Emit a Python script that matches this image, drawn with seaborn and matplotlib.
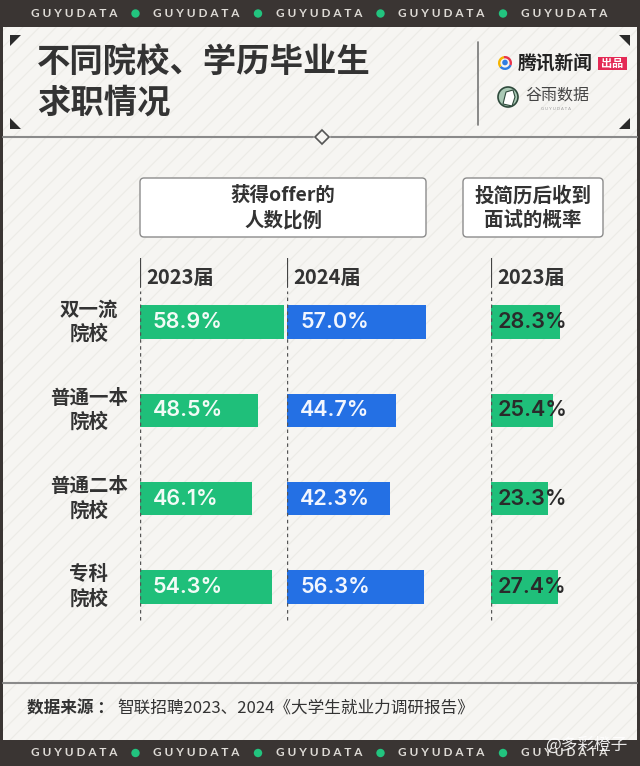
import numpy as np
import pandas as pd
import matplotlib
matplotlib.use('Agg')
import matplotlib.pyplot as plt
import matplotlib.transforms as mtransforms
from matplotlib.patches import Rectangle, Polygon, FancyBboxPatch, Circle, Wedge
import seaborn as sns

# data
schools = ['双一流\n院校', '普通一本\n院校', '普通二本\n院校', '专科\n院校']
offer_2023 = [58.9, 48.5, 46.1, 54.3]
offer_2024 = [57.0, 44.7, 42.3, 56.3]
interview_2023 = [28.3, 25.4, 23.3, 27.4]
col_labels = ['2023届', '2024届', '2023届']

sns.set_style('white')
CJK = ['Noto Sans CJK SC', 'DejaVu Sans']
NUM = ['Inter', 'Lato', 'Noto Sans CJK SC', 'DejaVu Sans']
plt.rcParams['font.family'] = CJK

GREEN = '#1fbf7a'
BLUE = '#2470e4'
DARK = '#3a3533'
TXT = '#333333'
BG = '#f6f5f2'

W, H = 640, 766
fig = plt.figure(figsize=(W / 100, H / 100), dpi=100)

# canvas axes in pixel units for the frame and decorations
cv = fig.add_axes([0, 0, 1, 1], zorder=0)
cv.set_xlim(0, W)
cv.set_ylim(H, 0)
cv.axis('off')

plt.rcParams['hatch.linewidth'] = 0.8
cv.add_patch(Rectangle((0, 0), W, H, facecolor=BG, edgecolor='#ecebe6', hatch='//', lw=0))
# dark bands and side frame
cv.add_patch(Rectangle((0, 0), W, 27, color=DARK, lw=0))
cv.add_patch(Rectangle((0, 740), W, 26, color=DARK, lw=0))
cv.add_patch(Rectangle((0, 0), 3, H, color=DARK, lw=0))
cv.add_patch(Rectangle((W - 3, 0), 3, H, color=DARK, lw=0))

for yb in (13.5, 753):
    for k in range(5):
        cv.text(74 + k * 122.5, yb, 'G U Y U D A T A', family=['Lato', 'DejaVu Sans'], fontsize=8.5,
                color='#dedbd6', ha='center', va='center', weight='bold')
        if k < 4:
            cv.add_patch(Circle((135.5 + k * 122.5, yb), 4.2, color='#22c47f', lw=0))

# corner marks
for pts in ([(10, 35), (21, 35), (10, 46)], [(10, 129), (10, 118), (21, 129)],
            [(630, 35), (619, 35), (630, 46)], [(630, 129), (630, 118), (619, 129)]):
    cv.add_patch(Polygon(pts, color='#2b2b2b', lw=0))

# title
cv.text(37, 62, '不同院校、学历毕业生', fontsize=24, weight='heavy', color=TXT, va='center')
cv.text(37, 103, '求职情况', fontsize=24, weight='heavy', color=TXT, va='center')

# logos
cv.plot([478, 478], [42, 125], color='#777777', lw=1.2)
cv.add_patch(Wedge((505, 63), 7, 20, 140, width=2.4, color='#2f7de1', lw=0))
cv.add_patch(Wedge((505, 63), 7, 140, 260, width=2.4, color='#f5b400', lw=0))
cv.add_patch(Wedge((505, 63), 7, 260, 380, width=2.4, color='#e8334a', lw=0))
cv.add_patch(Circle((505, 62.5), 2.8, color='#2f7de1', lw=0))
cv.text(518, 63.5, '腾讯新闻', fontsize=13.5, weight='bold', color='#222222', va='center')
cv.add_patch(Rectangle((598, 57), 29, 13, color='#e42a55', lw=0))
cv.text(612.5, 63.5, '出品', fontsize=8, weight='bold', color='white', ha='center', va='center')
cv.add_patch(Circle((508, 97), 10, facecolor='#a9c9b5', edgecolor='#2f4a3c', lw=1.2))
cv.add_patch(Polygon([(503, 104), (506, 92), (513, 90), (515, 97), (512, 106)],
                     facecolor='white', edgecolor='#2f4a3c', lw=0.8))
cv.text(525, 95, '谷雨数据', fontsize=11.5, color='#444444', va='center')
cv.text(556, 109, 'G U Y U D A T A', family=['Lato', 'DejaVu Sans'], fontsize=3, color='#999999',
        ha='center', va='center')

# header separator with diamond
cv.plot([3, 313], [137, 137], color='#8a8a8a', lw=1.5)
cv.plot([331, 637], [137, 137], color='#8a8a8a', lw=1.5)
cv.add_patch(Polygon([(322, 130), (329, 137), (322, 144), (315, 137)],
                     facecolor=BG, edgecolor='#555555', lw=1.2))

# group header boxes
for x0, x1, txt in ((140, 426, '获得offer的\n人数比例'), (463, 603, '投简历后收到\n面试的概率')):
    cv.add_patch(FancyBboxPatch((x0, 178), x1 - x0, 59, boxstyle='round,pad=0,rounding_size=4',
                                facecolor='white', edgecolor='#8c8c8c', lw=1))
    cv.text((x0 + x1) / 2, 208, txt, fontsize=14, weight='bold', color=TXT,
            ha='center', va='center', linespacing=1.35)

# source
cv.plot([3, 637], [683, 683], color='#8a8a8a', lw=1.5)
cv.text(27, 708, '数据来源 ：', fontsize=12, weight='bold', color=TXT, va='center')
cv.text(117, 708, '智联招聘2023、2024《大学生就业力调研报告》', fontsize=12, color=TXT, va='center')
cv.text(545, 745, '@多彩橙子', fontsize=12, color='white', va='center', alpha=0.9)

# bar panels
scale = 2.44  # px per percentage point
xmax = 60
top, bottom = 258, 625
panels = [(140, offer_2023, GREEN, '#f2fbf6', 13), (287, offer_2024, BLUE, '#f2f6fe', 13),
          (491, interview_2023, GREEN, '#2a2a2a', 7)]
axes = []
for (x0, vals, color, lab_color, off), clab in zip(panels, col_labels):
    ax = fig.add_axes([x0 / W, 1 - bottom / H, xmax * scale / W, (bottom - top) / H], zorder=2)
    ax.patch.set_alpha(0)
    df = pd.DataFrame({'school': schools, 'value': vals})
    sns.barplot(data=df, x='value', y='school', orient='h', color=color, saturation=1,
                width=0.375, linewidth=0, ax=ax)
    ax.set_xlim(0, xmax)
    ax.set_ylim(3.43, -0.725)
    ax.axis('off')
    ax.axvline(0, ymin=(bottom - 287) / (bottom - top), ymax=1, color='#444444', lw=1.6)
    ax.axvline(0, ymin=(bottom - 620) / (bottom - top), ymax=(bottom - 291) / (bottom - top),
               color='#555555', lw=1, ls=(0, (2.5, 2.5)))
    for i, v in enumerate(vals):
        ax.text(off / scale, i, f'{v:.1f}%', family=NUM, fontsize=15.5, weight='semibold',
                color=lab_color, va='center', ha='left', zorder=5)
    cv.text(x0 + 6, 277, clab, fontsize=14.5, weight='bold', color=TXT, va='center')
    axes.append(ax)

# row labels
tr = mtransforms.blended_transform_factory(cv.transData, axes[0].transData)
for i, s in enumerate(schools):
    axes[0].text(89, i, s, transform=tr, fontsize=14, weight='bold', color=TXT,
                 ha='center', va='center', linespacing=1.3, clip_on=False)

fig.savefig('out.png', dpi=100)
